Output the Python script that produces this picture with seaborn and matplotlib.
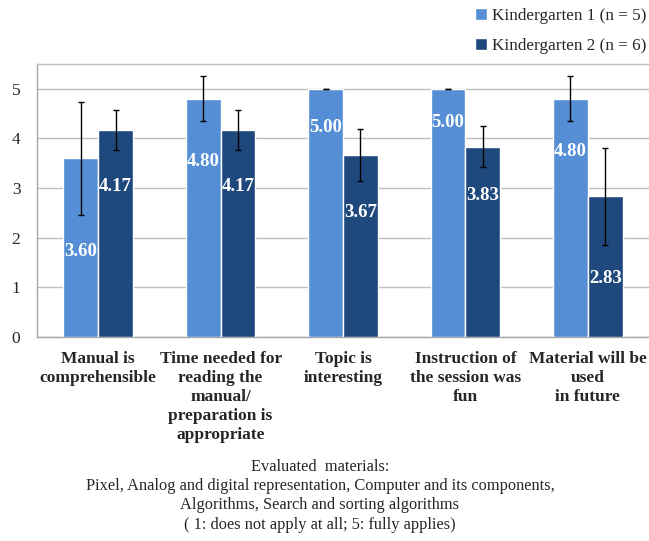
import numpy as np
import pandas as pd
import matplotlib
matplotlib.use('Agg')
import matplotlib.pyplot as plt
import seaborn as sns

# data
items = ['Manual is\ncomprehensible',
         'Time needed for\nreading the\nmanual/\npreparation is\nappropriate',
         'Topic is\ninteresting',
         'Instruction of\nthe session was\nfun',
         'Material will be\nused\nin future']
groups = ['Kindergarten 1 (n = 5)', 'Kindergarten 2 (n = 6)']
kg1_mean = [3.60, 4.80, 5.00, 5.00, 4.80]
kg2_mean = [4.17, 4.17, 3.67, 3.83, 2.83]
kg1_sd = [1.14, 0.45, 0.0, 0.0, 0.45]
kg2_sd = [0.41, 0.41, 0.52, 0.41, 0.98]

# where the value labels sit inside the bars (layout only)
kg1_label_y = [1.72, 3.53, 4.22, 4.32, 3.73]
kg2_label_y = [3.03, 3.03, 2.50, 2.84, 1.17]

df = pd.DataFrame({
    'item': items * 2,
    'group': [groups[0]] * 5 + [groups[1]] * 5,
    'mean': kg1_mean + kg2_mean,
})

sns.set_style('white')
plt.rcParams['font.family'] = ['Liberation Serif', 'DejaVu Serif']

fig = plt.figure(figsize=(6.49, 5.41), dpi=100)
ax = fig.add_axes([0.057, 0.377, 0.943, 0.505])

colors = ['#558ED5', '#1F497D']
sns.barplot(data=df, x='item', y='mean', hue='group', palette=colors,
            width=0.57, errorbar=None, saturation=1, ax=ax, zorder=3)

sds = [kg1_sd, kg2_sd]
label_ys = [kg1_label_y, kg2_label_y]
means = [kg1_mean, kg2_mean]
bar_groups = list(ax.containers)
for k, cont in enumerate(bar_groups):
    xs = [p.get_x() + p.get_width() / 2 for p in cont.patches]
    ax.errorbar(xs, means[k], yerr=sds[k], fmt='none', ecolor='black',
                elinewidth=1, capsize=2, capthick=1, zorder=4)
    for x, ly, v in zip(xs, label_ys[k], means[k]):
        ax.text(x, ly, f'{v:.2f}', ha='center', va='center', color='white',
                fontsize=13.5, fontweight='bold', zorder=5)

ax.set_ylim(0, 5.5)
ax.set_xlim(-0.5, 4.5)
ax.set_yticks(range(6))
ax.yaxis.grid(True, color='#BEBEBE', linewidth=1)
ax.set_axisbelow(True)
ax.tick_params(axis='y', length=0, labelsize=12.5, pad=12)
ax.set_xticks(range(len(items)))
ax.set_xticklabels(items, fontweight='bold', fontsize=12.5, linespacing=1.25)
ax.tick_params(axis='x', which='major', length=0, pad=10)
ax.set_xticks(np.arange(-0.5, 5, 1), minor=True)
ax.tick_params(axis='x', which='minor', length=5, color='#A6A6A6', width=1)
ax.set_xlabel('')
ax.set_ylabel('')

for side in ['left', 'bottom', 'top']:
    ax.spines[side].set_color('#A6A6A6')
    ax.spines[side].set_linewidth(1)
ax.spines['top'].set_color('#BEBEBE')
ax.spines['right'].set_visible(False)

ax.legend(loc='upper left', bbox_to_anchor=(0.72, 1.0),
          bbox_transform=fig.transFigure, frameon=False, fontsize=12.3,
          handlelength=0.7, handleheight=0.7, handletextpad=0.3,
          labelspacing=0.85, borderaxespad=0.05)

fig.text(0.493, 0.084,
         'Evaluated  materials:\n'
         'Pixel, Analog and digital representation, Computer and its components,\n'
         'Algorithms, Search and sorting algorithms\n'
         '( 1: does not apply at all; 5: fully applies)',
         ha='center', va='center', fontsize=11.8, linespacing=1.28)

fig.savefig('out.png', dpi=100)
